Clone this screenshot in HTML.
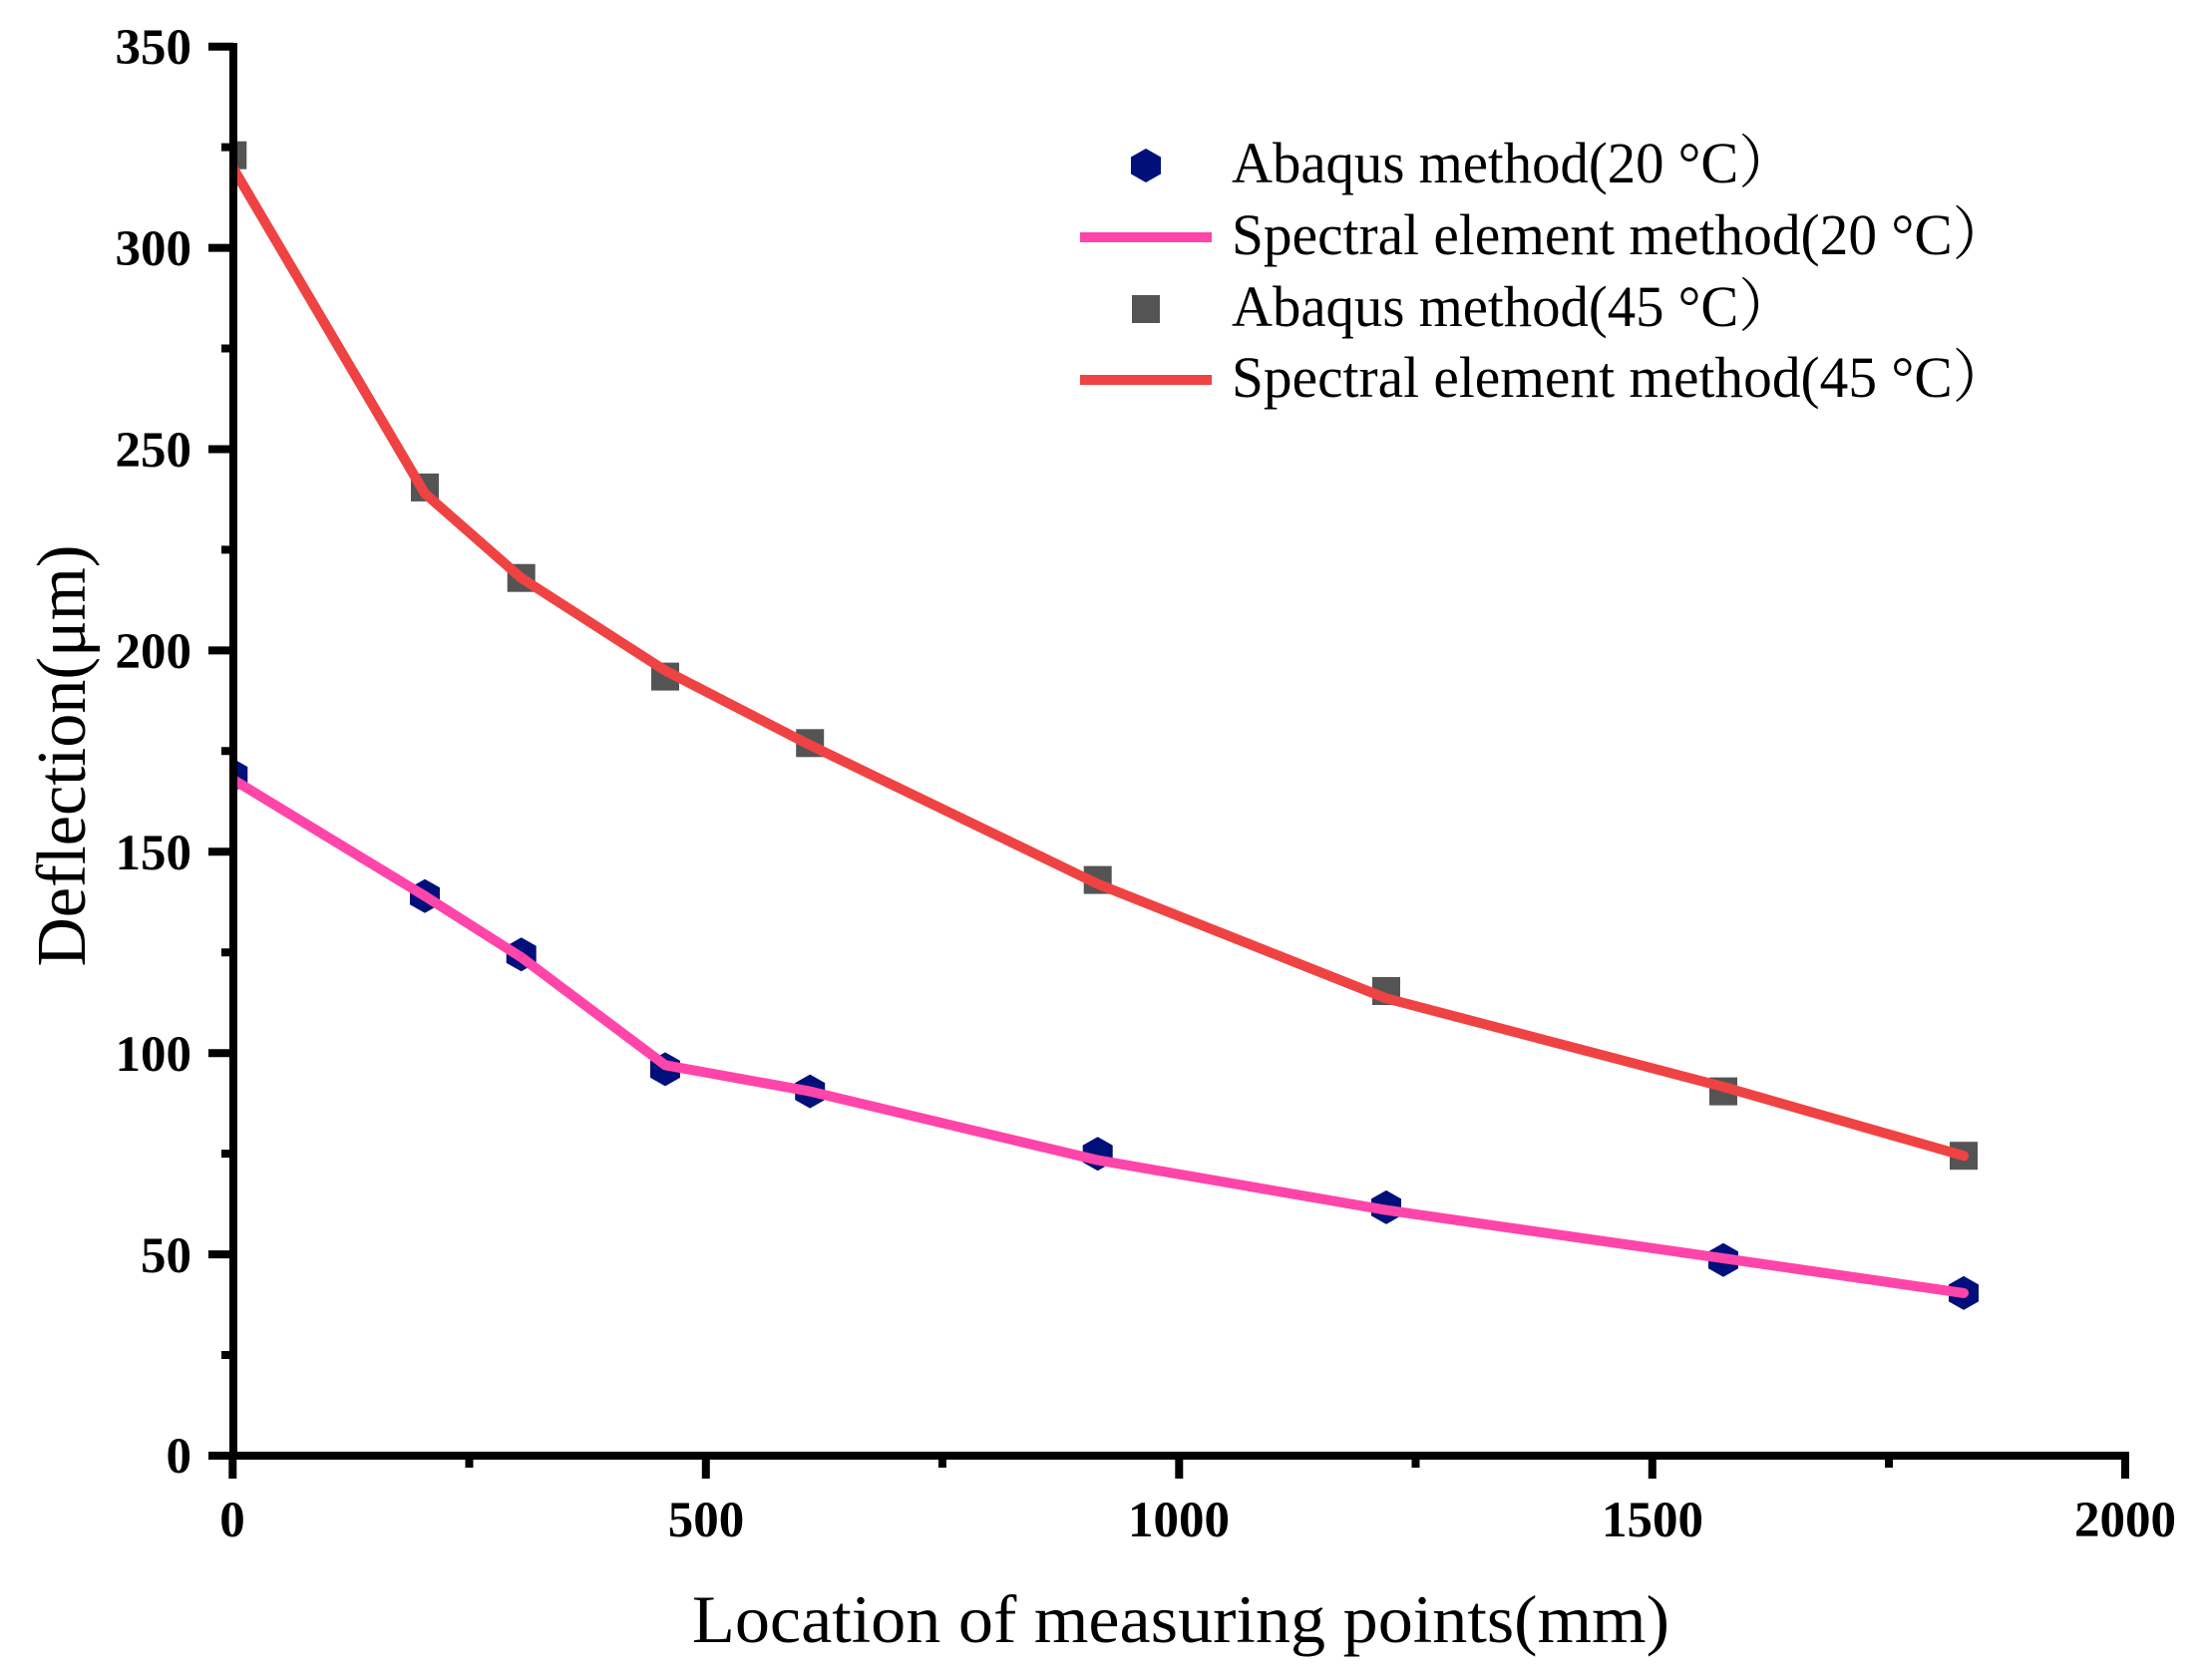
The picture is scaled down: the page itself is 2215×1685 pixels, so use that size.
<!DOCTYPE html>
<html><head><meta charset="utf-8"><style>html,body{margin:0;padding:0;background:#fff}svg{display:block}</style></head>
<body>
<svg xmlns="http://www.w3.org/2000/svg" width="2215" height="1685" viewBox="0 0 2215 1685">
<defs>
<clipPath id="pc"><rect x="234" y="40" width="1900" height="1420"/></clipPath>
<polygon id="hex" points="0,-17 15,-8.5 15,8.5 0,17 -15,8.5 -15,-8.5" fill="#00107A"/>
<rect id="sq" x="-14" y="-14" width="28" height="28" fill="#545454"/>
</defs>
<g clip-path="url(#pc)">
<use href="#sq" x="233.3" y="155.7"/><use href="#sq" x="426" y="488.9"/><use href="#sq" x="522.7" y="579.7"/><use href="#sq" x="667" y="678.6"/><use href="#sq" x="812.2" y="745.3"/><use href="#sq" x="1100.7" y="882.6"/><use href="#sq" x="1390" y="994"/><use href="#sq" x="1728" y="1094.6"/><use href="#sq" x="1969" y="1159.2"/>
<use href="#hex" x="233.3" y="777.6"/><use href="#hex" x="426" y="898.7"/><use href="#hex" x="522.7" y="957.3"/><use href="#hex" x="667" y="1072.4"/><use href="#hex" x="812.2" y="1094.6"/><use href="#hex" x="1100.7" y="1157.2"/><use href="#hex" x="1390" y="1210.9"/><use href="#hex" x="1728" y="1263.8"/><use href="#hex" x="1969" y="1296.9"/>
<polyline fill="none" stroke="#EF4343" stroke-width="10" stroke-linecap="round" stroke-linejoin="round" points="233.3,167.8 426,494.9 522.7,579.7 667,672.6 812.2,747.3 1100.7,886.6 1390,1001.3 1728,1090.1 1969,1159.2"/>
<polyline fill="none" stroke="#FF45AA" stroke-width="10" stroke-linecap="round" stroke-linejoin="round" points="233.3,781.6 426,898.7 522.7,960.1 667,1068.3 812.2,1094.6 1100.7,1163.6 1390,1213.7 1728,1262.1 1969,1296.9"/>
</g>
<g stroke="#000" stroke-width="8" fill="none">
<line x1="234" y1="43" x2="234" y2="1464"/>
<line x1="230" y1="1460" x2="2135" y2="1460"/>
<path d="M209,46.7H234 M209,248.6H234 M209,450.5H234 M209,652.4H234 M209,854.3H234 M209,1056.2H234 M209,1258.1H234 M209,1460H234"/>
<path d="M222,147.6H234 M222,349.5H234 M222,551.4H234 M222,753.3H234 M222,955.2H234 M222,1157.1H234 M222,1359H234"/>
<path d="M233.3,1460V1483 M707.8,1460V1483 M1182.3,1460V1483 M1656.8,1460V1483 M2131,1456V1483"/>
<path d="M470.5,1460V1472 M945,1460V1472 M1419.5,1460V1472 M1894,1460V1472"/>
</g>
<g font-family="Liberation Serif, serif" font-weight="bold" font-size="51" fill="#000" text-anchor="end">
<text x="192" y="64">350</text><text x="192" y="266">300</text><text x="192" y="468">250</text><text x="192" y="670">200</text><text x="192" y="872">150</text><text x="192" y="1074">100</text><text x="192" y="1276">50</text><text x="192" y="1477">0</text>
</g>
<g font-family="Liberation Serif, serif" font-weight="bold" font-size="51" fill="#000" text-anchor="middle">
<text x="233" y="1541">0</text><text x="708" y="1541">500</text><text x="1182" y="1541">1000</text><text x="1657" y="1541">1500</text><text x="2131" y="1541">2000</text>
</g>
<text x="694" y="1647" font-family="Liberation Serif, serif" font-size="68" textLength="980" lengthAdjust="spacingAndGlyphs">Location of measuring points(mm)</text>
<text transform="translate(85,758) rotate(-90)" text-anchor="middle" font-family="Liberation Serif, serif" font-size="70" textLength="423" lengthAdjust="spacingAndGlyphs">Deflection(μm)</text>
<g font-family="Liberation Serif, 'Noto Serif CJK SC', serif" font-size="58" fill="#000">
<use href="#hex" x="1149" y="166"/>
<line x1="1083" y1="238" x2="1215" y2="238" stroke="#FF45AA" stroke-width="10"/>
<use href="#sq" x="1149" y="310"/>
<line x1="1083" y1="381" x2="1215" y2="381" stroke="#EF4343" stroke-width="10"/>
<text x="1235" y="183" textLength="565" lengthAdjust="spacingAndGlyphs">Abaqus method(20 °C）</text>
<text x="1235" y="255" textLength="780" lengthAdjust="spacingAndGlyphs">Spectral element method(20 °C）</text>
<text x="1235" y="327" textLength="565" lengthAdjust="spacingAndGlyphs">Abaqus method(45 °C）</text>
<text x="1235" y="398" textLength="780" lengthAdjust="spacingAndGlyphs">Spectral element method(45 °C）</text>
</g>
</svg>
</body></html>
